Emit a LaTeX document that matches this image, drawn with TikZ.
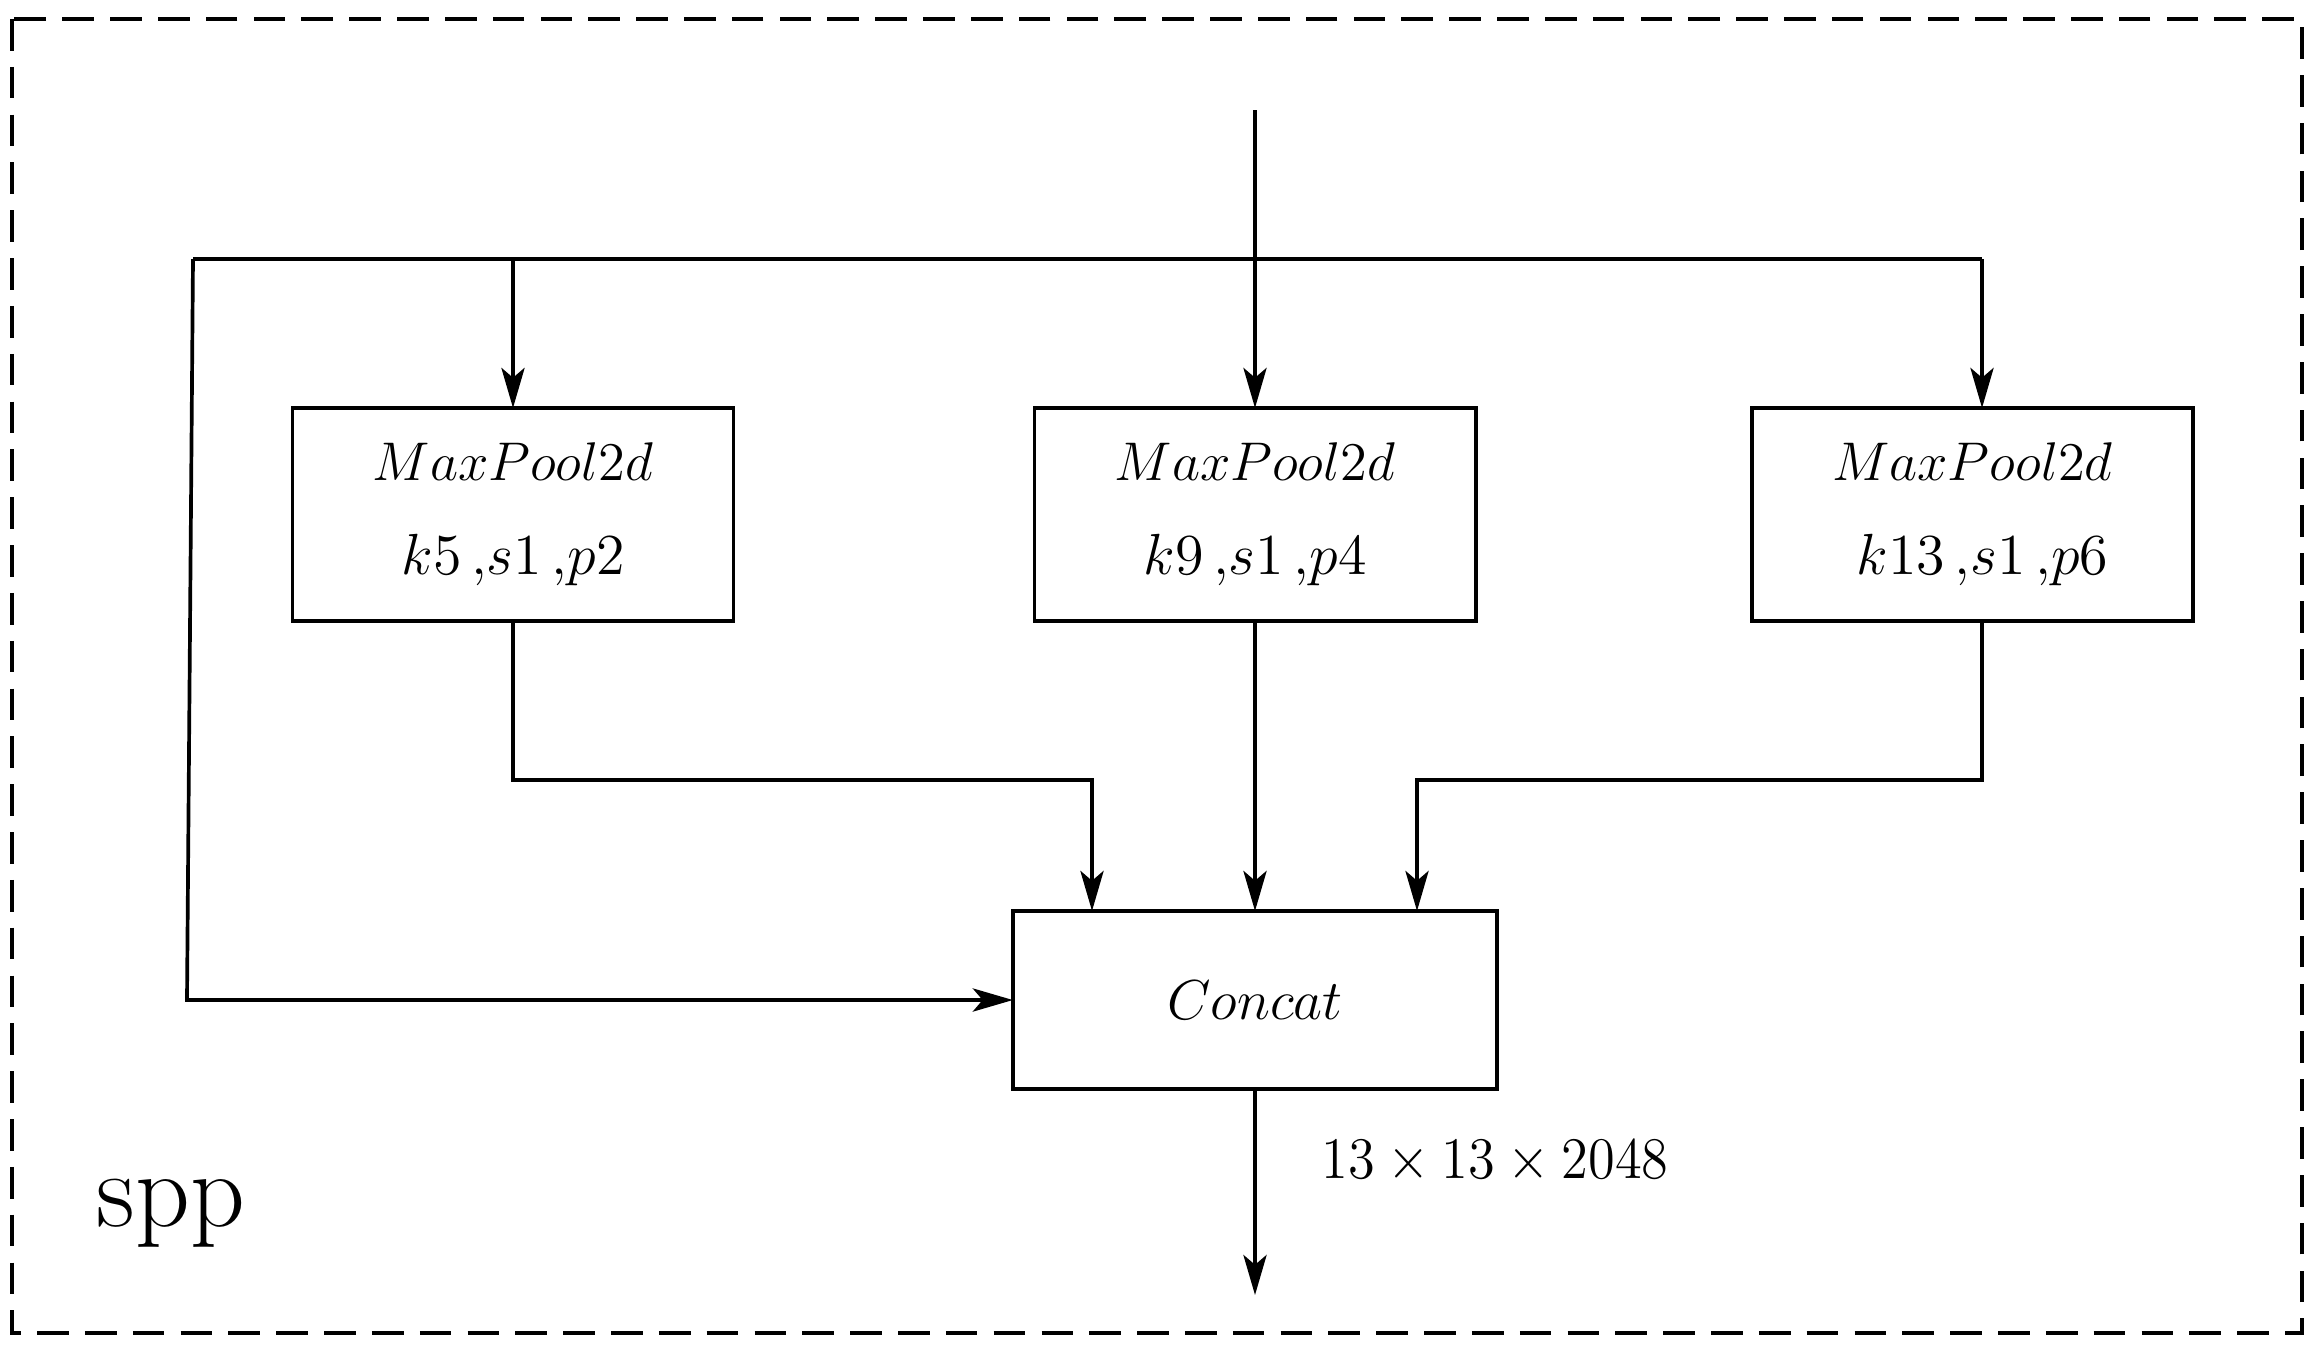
\RequirePackage{fix-cm}
\documentclass[tikz,border=0pt]{standalone}
\usetikzlibrary{arrows.meta}
\newcommand{\secline}[1]{{\fontsize{16.5}{26.7}\selectfont #1}}
\begin{document}
\begin{tikzpicture}[x=0.01cm,y=-0.01cm,
  line width=1.05pt,
  arr/.style={-{Stealth[length=11.4pt,width=6.6pt,inset=2.8pt]}},
  blk/.style={draw,inner sep=0pt,outer sep=0pt,align=center,
    font=\fontsize{15.5}{26.7}\selectfont},
  frame/.style={draw,dash pattern=on 9pt off 4.6pt,line width=1.15pt}]
\useasboundingbox (0,0) rectangle (2322,1344);
\draw[frame] (12,19) rectangle (2302,1333);
\node[blk,minimum width=4.41cm,minimum height=2.13cm] (b1) at (513,514.5) {$MaxPool2d$\\\secline{$k5\,{,}s1\,{,}p2$}};
\node[blk,minimum width=4.41cm,minimum height=2.13cm] (b2) at (1255,514.5) {$MaxPool2d$\\\secline{$k9\,{,}s1\,{,}p4$}};
\node[blk,minimum width=4.41cm,minimum height=2.13cm] (b3) at (1972.5,514.5) {$MaxPool2d$\\\secline{\hspace{5.7pt}$k13\,{,}s1\,{,}p6$}};
\node[blk,minimum width=4.84cm,minimum height=1.78cm,font=\fontsize{16}{20}\selectfont] (cc) at (1255,1000) {$Concat$};
\coordinate (in) at (1255,110);
\coordinate (hl) at (193,259);
\coordinate (hr) at (1982,259);
\coordinate (ll) at (187,1000);
\coordinate (m1) at (1092,780);
\coordinate (m3) at (1417,780);
\coordinate (out) at (1255,1295);
\draw[arr] (in) -- (b2.north);
\draw (hl) -- (hr);
\draw[arr] (b1.north |- hl) -- (b1.north);
\draw[arr] (hr) -- ([xshift=0.095cm]b3.north);
\draw[arr] (hl) -- (ll) -- (cc.west);
\draw[arr] (b1.south) |- (m1) -- (m1 |- cc.north);
\draw[arr] (b2.south) -- (b2.south |- cc.north);
\draw[arr] ([xshift=0.095cm]b3.south) |- (m3) -- (m3 |- cc.north);
\draw[arr] (cc.south) -- (out);
\node[anchor=base west,inner sep=0pt,font=\fontsize{15.5}{18}\selectfont] (dim) at (1320,1178) {\scalebox{1}[1.08]{$13\times13\times2048$}};
\node[anchor=base west,inner sep=0pt,font=\fontsize{30.5}{36}\selectfont] (spp) at (95,1226) {spp};
\end{tikzpicture}
\end{document}
